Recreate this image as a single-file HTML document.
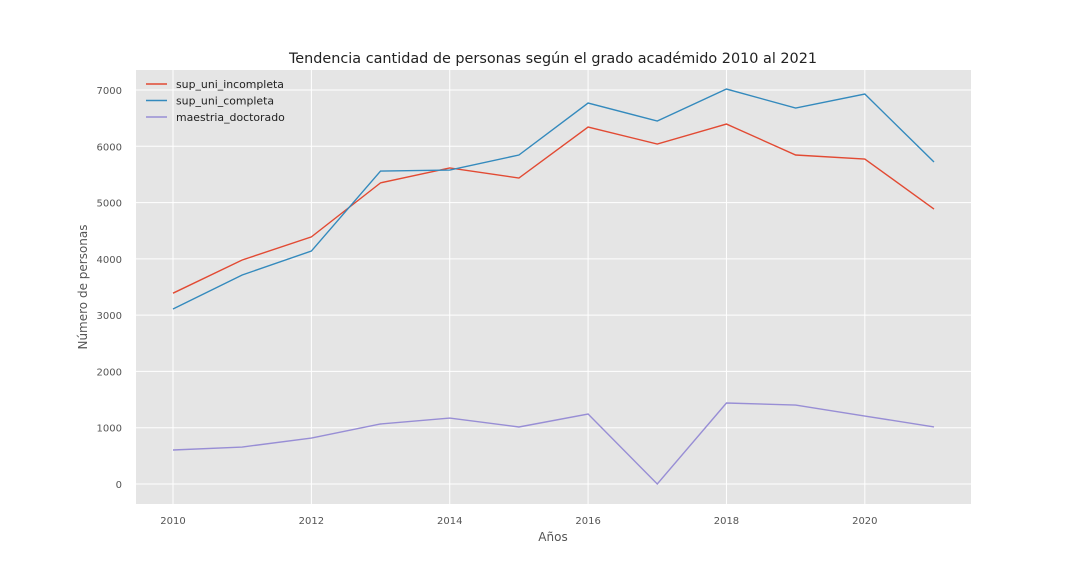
<!DOCTYPE html>
<html><head><meta charset="utf-8"><style>
body{margin:0;background:#fff;}
svg text{font-family:"DejaVu Sans","Liberation Sans",sans-serif;}
</style></head><body>
<svg id="chart" width="1080" height="576">
<rect x="136" y="70" width="835" height="434" fill="#E5E5E5"/>
<g id="grid"></g><g id="ticks"></g><g id="lines"></g>
<text x="553" y="63" text-anchor="middle" font-size="14.4" fill="#222">Tendencia cantidad de personas según el grado académido 2010 al 2021</text>
<text x="553" y="541" text-anchor="middle" font-size="12" fill="#555">Años</text>
<text x="87" y="287" text-anchor="middle" font-size="12" fill="#555" transform="rotate(-90 87 287)">Número de personas</text>
<g id="legend"></g>
</svg>
<script>
const years=[2010,2011,2012,2013,2014,2015,2016,2017,2018,2019,2020,2021];
const supUniIncompleta=[3390,3980,4390,5350,5615,5436,6342,6040,6395,5845,5774,4885];
const supUniCompleta=[3109,3713,4139,5560,5578,5845,6768,6449,7017,6680,6928,5720];
const maestriaDoctorado=[604,657,817,1066,1172,1013,1243,0,1439,1403,1208,1013];
const xTicks=[2010,2012,2014,2016,2018,2020];
const yTicks=[0,1000,2000,3000,4000,5000,6000,7000];
const seriesNames=["sup_uni_incompleta","sup_uni_completa","maestria_doctorado"];
const colors=["#E24A33","#348ABD","#988ED5"];
const NS="http://www.w3.org/2000/svg";
const xs=v=>173+(v-2010)*(934-173)/11;
const ys=v=>484-v*(484-90)/7000;
function mk(t,a,p){const e=document.createElementNS(NS,t);for(const k in a)e.setAttribute(k,a[k]);p.appendChild(e);return e;}
const grid=document.getElementById('grid'),ticks=document.getElementById('ticks');
xTicks.forEach(t=>{
 const l=mk('line',{x1:xs(t),x2:xs(t),y1:70,y2:504,stroke:'#fff','stroke-width':1},grid);
 
 
 const tx=mk('text',{x:xs(t),y:524,'text-anchor':'middle','font-size':10,fill:'#555'},ticks);
 tx.textContent=t;
 
 
});
yTicks.forEach(t=>{
 const l=mk('line',{x1:136,x2:971,y1:ys(t),y2:ys(t),stroke:'#fff','stroke-width':1},grid);
 
 
 const tx=mk('text',{x:122,y:ys(t)+4,'text-anchor':'end','font-size':10,fill:'#555'},ticks);
 tx.textContent=t;
 
 
});
const data=[supUniIncompleta,supUniCompleta,maestriaDoctorado];
const lines=document.getElementById('lines'),leg=document.getElementById('legend');
data.forEach((s,i)=>{
 const p=mk('polyline',{points:s.map((v,j)=>xs(years[j])+','+ys(v)).join(' '),fill:'none',stroke:colors[i],'stroke-width':1.4},lines);
 
 
 const y=84+i*16.5;
 const ll=mk('line',{x1:146,x2:167,y1:y,y2:y,stroke:colors[i],'stroke-width':1.4},leg);
 
 
 const lt=mk('text',{x:176,y:y+4,'font-size':10.9,fill:'#222'},leg);
 lt.textContent=seriesNames[i];
 
 
});
</script>
</body></html>
